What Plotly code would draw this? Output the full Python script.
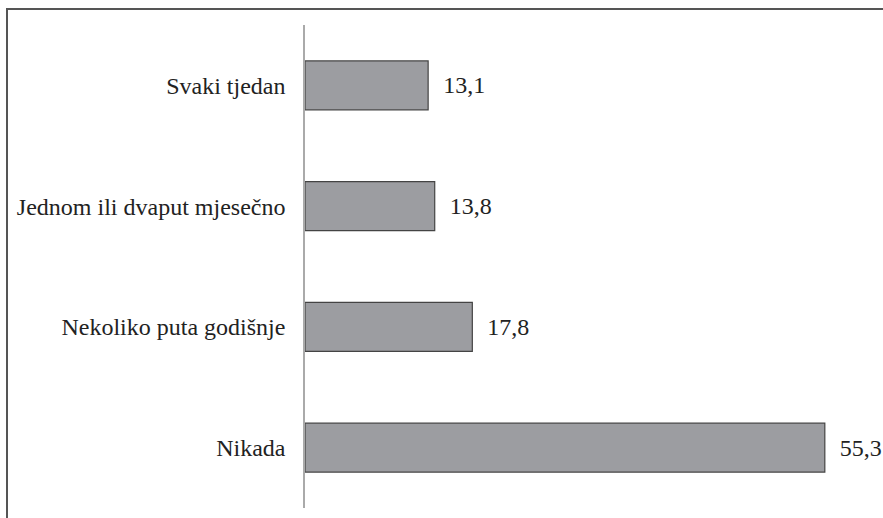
import plotly.graph_objects as go

categories = ["Svaki tjedan", "Jednom ili dvaput mjesečno", "Nekoliko puta godišnje", "Nikada"]
values = [13.1, 13.8, 17.8, 55.3]

W, H = 883, 518
L, R, T, B = 305, 0, 25, 10
pw = W - L - R
ph = H - T - B
FONT = "Liberation Serif, Times New Roman, Times, serif"

fig = go.Figure(go.Bar(
    x=values,
    y=categories,
    orientation="h",
    marker=dict(color="#9c9da1", line=dict(color="#444444", width=1.2)),
    text=values,
    texttemplate="\u00a0\u00a0%{x:.1f}",
    textposition="outside",
    cliponaxis=False,
    textfont=dict(family=FONT, size=24, color="#222222"),
    width=0.405,
))

def px_to_paper_x(px):
    return (px - L) / pw

def px_to_paper_y(py):
    return (H - B - py) / ph

fig.add_shape(type="path", xref="paper", yref="paper",
              path=f"M {px_to_paper_x(7)} {px_to_paper_y(540)} L {px_to_paper_x(7)} {px_to_paper_y(9)} L {px_to_paper_x(900)} {px_to_paper_y(9)}",
              line=dict(color="#555555", width=2))

fig.update_layout(
    width=W, height=H,
    margin=dict(l=L, r=R, t=T, b=B),
    paper_bgcolor="white", plot_bgcolor="white",
    separators=", ",
    showlegend=False,
    font=dict(family=FONT, size=24, color="#222222"),
    xaxis=dict(range=[0, pw / 9.4], showgrid=False, zeroline=False,
               showticklabels=False, showline=False, ticks=""),
    yaxis=dict(categoryorder="array", categoryarray=categories[::-1],
               showgrid=False, zeroline=False, showline=True,
               linecolor="#aaaaaa", linewidth=1.5, ticks="",
               ticklabelstandoff=13,
               tickfont=dict(family=FONT, size=24, color="#222222")),
)

fig.write_html("out.html", config={"displayModeBar": False},
               post_script="document.body.style.margin='0';document.body.style.overflow='hidden';")
